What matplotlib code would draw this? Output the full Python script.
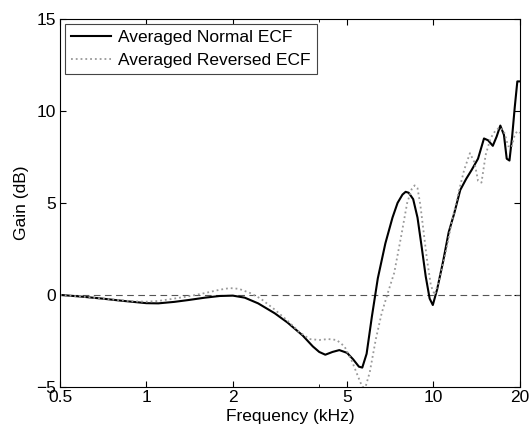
import matplotlib.pyplot as plt
import numpy as np

plt.rcParams['font.family'] = ['Liberation Sans', 'DejaVu Sans']

# frequency (kHz) and gain (dB)
freq_normal = [0.5, 0.6, 0.7, 0.8, 0.9, 1.0, 1.1, 1.25, 1.4, 1.6, 1.8, 2.0, 2.2, 2.45, 2.8, 3.1,
               3.5, 3.8, 4.0, 4.2, 4.45, 4.7, 5.0, 5.25, 5.5, 5.65, 5.85, 6.1, 6.4, 6.8, 7.2,
               7.5, 7.8, 8.0, 8.2, 8.5, 8.8, 9.1, 9.4, 9.7, 9.95, 10.3, 10.8, 11.3, 11.8, 12.4,
               13.0, 13.6, 14.3, 15.0, 15.5, 16.1, 16.6, 17.1, 17.6, 18.0, 18.4, 18.8, 19.2,
               19.6, 20.0]
gain_normal = [0.0, -0.1, -0.2, -0.3, -0.38, -0.45, -0.46, -0.38, -0.28, -0.15, -0.06, -0.04, -0.15, -0.46, -1.0, -1.5,
               -2.2, -2.8, -3.1, -3.25, -3.1, -3.0, -3.15, -3.5, -3.9, -3.95, -3.2, -1.2, 0.9, 2.8, 4.2,
               5.0, 5.45, 5.6, 5.55, 5.2, 4.2, 2.6, 1.0, -0.2, -0.55, 0.3, 1.8, 3.4, 4.4, 5.7,
               6.3, 6.8, 7.4, 8.5, 8.4, 8.1, 8.6, 9.2, 8.7, 7.4, 7.3, 8.6, 10.2,
               11.6, 11.6]

freq_reversed = [0.5, 0.6, 0.7, 0.8, 0.9, 1.0, 1.1, 1.25, 1.4, 1.6, 1.8, 1.95, 2.1, 2.3, 2.5, 2.8, 3.1,
                 3.4, 3.7, 4.0, 4.3, 4.6, 4.9, 5.2, 5.45, 5.65, 5.8, 6.0, 6.3, 6.6, 6.9, 7.3,
                 7.7, 8.1, 8.4, 8.6, 8.8, 9.0, 9.5, 9.8, 10.1, 10.5, 11.0, 11.6, 12.2, 12.8, 13.4, 13.9,
                 14.3, 14.7, 15.2, 15.8, 16.4, 17.0, 17.6, 18.2, 18.7, 19.2, 19.6, 20.0]
gain_reversed = [0.0, -0.1, -0.2, -0.28, -0.35, -0.37, -0.33, -0.2, -0.08, 0.1, 0.28, 0.37, 0.33, 0.1, -0.2, -0.8, -1.4,
                 -2.0, -2.4, -2.45, -2.4, -2.45, -2.8, -3.6, -4.4, -5.0, -5.0, -4.2, -2.4, -1.0, 0.0, 1.2,
                 3.1, 5.0, 5.75, 5.95, 5.8, 4.9, 1.9, 0.5, 0.0, 0.9, 2.2, 4.0, 5.5, 6.8, 7.7, 7.2,
                 6.2, 6.1, 7.6, 8.5, 8.9, 9.1, 8.9, 8.1, 8.0, 8.7, 8.9, 8.8]

xticks = [0.5, 1, 2, 5, 10, 20]
xticklabels = ['0.5', '1', '2', '5', '10', '20']
yticks = [-5, 0, 5, 10, 15]

fig = plt.figure(figsize=(5.31, 4.28), dpi=100)
ax = fig.add_axes([0.113, 0.096, 0.866, 0.86])

ax.axhline(0, color='#555555', linestyle=(0, (6, 4)), linewidth=0.8)
ax.plot(freq_normal, gain_normal, color='black', linewidth=1.5, label='Averaged Normal ECF')
ax.plot(freq_reversed, gain_reversed, color='#999999', linestyle=':', linewidth=1.3,
        label='Averaged Reversed ECF')

ax.set_xscale('log')
ax.set_xlim(0.5, 20)
ax.set_ylim(-5, 15)
ax.set_xticks(xticks)
ax.set_xticklabels(xticklabels)
ax.set_xticks([4], minor=True)
ax.set_yticks(yticks)
ax.tick_params(which='both', direction='in', top=True, right=True, labelsize=12.5, length=4)
ax.tick_params(which='minor', length=2.5)
ax.tick_params(axis='x', pad=2)
ax.tick_params(axis='y', pad=3)

ax.set_xlabel('Frequency (kHz)', fontsize=12.5, labelpad=3)
ax.set_ylabel('Gain (dB)', fontsize=12.5, labelpad=5)

leg = ax.legend(loc='upper left', fontsize=12.5, fancybox=False, framealpha=1,
                edgecolor='#444444', borderaxespad=0.3, handlelength=2.3,
                borderpad=0.35, labelspacing=0.45, handletextpad=0.4)
leg.get_frame().set_linewidth(0.8)

plt.savefig('out.png', dpi=100)
